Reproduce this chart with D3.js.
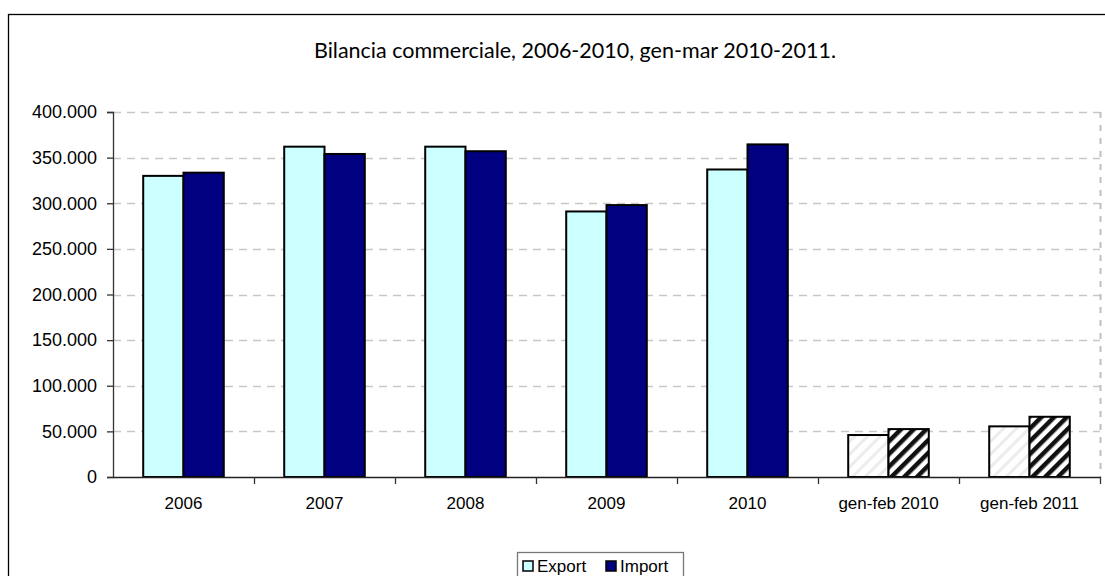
<!DOCTYPE html>
<html>
<head>
<meta charset="utf-8">
<script src="https://cdn.jsdelivr.net/npm/d3@7"></script>
<style>
  html, body { margin: 0; padding: 0; background: #fff; }
  svg { display: block; }
</style>
</head>
<body>
<svg id="chart" width="1105" height="576"></svg>
<script>
// Trade balance data (values in thousands of euro, Italian notation on axis)
const categories = ["2006", "2007", "2008", "2009", "2010", "gen-feb 2010", "gen-feb 2011"];
const exportValues = [330000, 362000, 362000, 291000, 337000, 46000, 55500];
const importValues = [333500, 354000, 357000, 298000, 364500, 52500, 66000];
const yTicks = [0, 50000, 100000, 150000, 200000, 250000, 300000, 350000, 400000];
const seriesNames = ["Export", "Import"];
const partialCategories = ["gen-feb 2010", "gen-feb 2011"];

const svg = d3.select("#chart");
const plot = { left: 113, right: 1100, top: 112, bottom: 477 };
const axisFont = "'Liberation Sans', Arial, sans-serif";

// pattern definitions for the partial-year bars
const defs = svg.append("defs");
const pImp = defs.append("pattern")
  .attr("id", "hatchImport").attr("patternUnits", "userSpaceOnUse")
  .attr("width", 9).attr("height", 9).attr("patternTransform", "rotate(45)");
pImp.append("rect").attr("width", 9).attr("height", 9).attr("fill", "#fff");
pImp.append("rect").attr("x", 0).attr("width", 4.5).attr("height", 9).attr("fill", "#111");

const pExp = defs.append("pattern")
  .attr("id", "hatchExport").attr("patternUnits", "userSpaceOnUse")
  .attr("width", 9).attr("height", 9).attr("patternTransform", "rotate(45)");
pExp.append("rect").attr("width", 9).attr("height", 9).attr("fill", "#fff");
pExp.append("rect").attr("x", 0).attr("width", 3).attr("height", 9).attr("fill", "#ececec");

// outer chart frame
svg.append("rect")
  .attr("x", 8.5).attr("y", 14.5).attr("width", 1110).attr("height", 600)
  .attr("fill", "none").attr("stroke", "#000").attr("stroke-width", 1.3);

// title
svg.append("text")
  .attr("x", 575).attr("y", 58)
  .attr("text-anchor", "middle")
  .attr("font-family", "Lato, 'Open Sans', sans-serif")
  .attr("font-size", 21.5)
  .attr("fill", "#000")
  .text("Bilancia commerciale, 2006-2010, gen-mar 2010-2011.");

const x = d3.scaleBand().domain(categories).range([plot.left, plot.right]).paddingInner(0).paddingOuter(0);
const y = d3.scaleLinear().domain([0, 400000]).range([plot.bottom, plot.top]);

const fmt = v => v === 0 ? "0" : d3.format(",")(v).replace(/,/g, ".");

// horizontal dashed gridlines
svg.append("g").selectAll("line").data(yTicks.filter(d => d > 0)).join("line")
  .attr("x1", plot.left).attr("x2", plot.right)
  .attr("y1", d => Math.round(y(d)) + 0.5).attr("y2", d => Math.round(y(d)) + 0.5)
  .attr("stroke", "#c8c8c8").attr("stroke-width", 1.3)
  .attr("stroke-dasharray", "8,6");

// right dashed border of plot area
svg.append("line")
  .attr("x1", plot.right + 0.5).attr("x2", plot.right + 0.5)
  .attr("y1", plot.top).attr("y2", plot.bottom)
  .attr("stroke", "#c0c0c0").attr("stroke-width", 2)
  .attr("stroke-dasharray", "6,7");

// bars
const inner = d3.scaleBand().domain(seriesNames).range([0, x.bandwidth()]).paddingOuter(0.75).paddingInner(0);
const rows = categories.map((c, i) => ({ c, vals: [exportValues[i], importValues[i]] }));
const groups = svg.append("g").selectAll("g").data(rows).join("g")
  .attr("transform", d => `translate(${x(d.c)},0)`);
groups.selectAll("rect").data(d => d.vals.map((v, j) => ({ v, s: seriesNames[j], c: d.c }))).join("rect")
  .attr("x", d => inner(d.s))
  .attr("width", inner.bandwidth())
  .attr("y", d => y(d.v))
  .attr("height", d => y(0) - y(d.v))
  .attr("fill", d => {
    const partial = partialCategories.includes(d.c);
    if (d.s === "Export") return partial ? "url(#hatchExport)" : "#ccffff";
    return partial ? "url(#hatchImport)" : "#000080";
  })
  .attr("stroke", "#000").attr("stroke-width", 2);

// y axis
const yAxis = svg.append("g").attr("transform", `translate(${plot.left},0)`)
  .call(d3.axisLeft(y).tickValues(yTicks).tickFormat(fmt).tickSize(6).tickPadding(10));
yAxis.select(".domain").attr("stroke", "#333").attr("stroke-width", 1.3);
yAxis.selectAll(".tick line").attr("stroke", "#333").attr("stroke-width", 1.3);
yAxis.selectAll("text").attr("font-family", axisFont)
  .attr("font-size", 18).attr("fill", "#000");

// x axis
const xAxis = svg.append("g").attr("transform", `translate(0,${plot.bottom})`)
  .call(d3.axisBottom(x).tickSize(0).tickPadding(20));
xAxis.select(".domain").attr("stroke", "#222").attr("stroke-width", 1.3);
xAxis.selectAll("text").attr("font-family", axisFont)
  .attr("font-size", 17).attr("fill", "#000").attr("dy", "0.71em");
// category separator ticks
svg.append("g").selectAll("line").data(categories.slice(1).concat(["__end"])).join("line")
  .attr("x1", (d, i) => Math.round(plot.left + x.bandwidth() * (i + 1)) + 0.5)
  .attr("x2", (d, i) => Math.round(plot.left + x.bandwidth() * (i + 1)) + 0.5)
  .attr("y1", plot.bottom).attr("y2", plot.bottom + 7)
  .attr("stroke", "#333").attr("stroke-width", 1.3);

// legend
const lg = svg.append("g");
lg.append("rect").attr("x", 517.5).attr("y", 552.5).attr("width", 166).attr("height", 40)
  .attr("fill", "#fff").attr("stroke", "#777").attr("stroke-width", 1.3);
const legendItems = [
  { name: seriesNames[0], fill: "#ccffff", x: 523 },
  { name: seriesNames[1], fill: "#000080", x: 606 }
];
legendItems.forEach(it => {
  lg.append("rect").attr("x", it.x).attr("y", 561).attr("width", 10).attr("height", 10)
    .attr("fill", it.fill).attr("stroke", "#000").attr("stroke-width", 1.5);
  lg.append("text").attr("x", it.x + 14).attr("y", 572)
    .attr("font-family", axisFont)
    .attr("font-size", 17).attr("fill", "#000").text(it.name);
});
</script>
</body>
</html>
